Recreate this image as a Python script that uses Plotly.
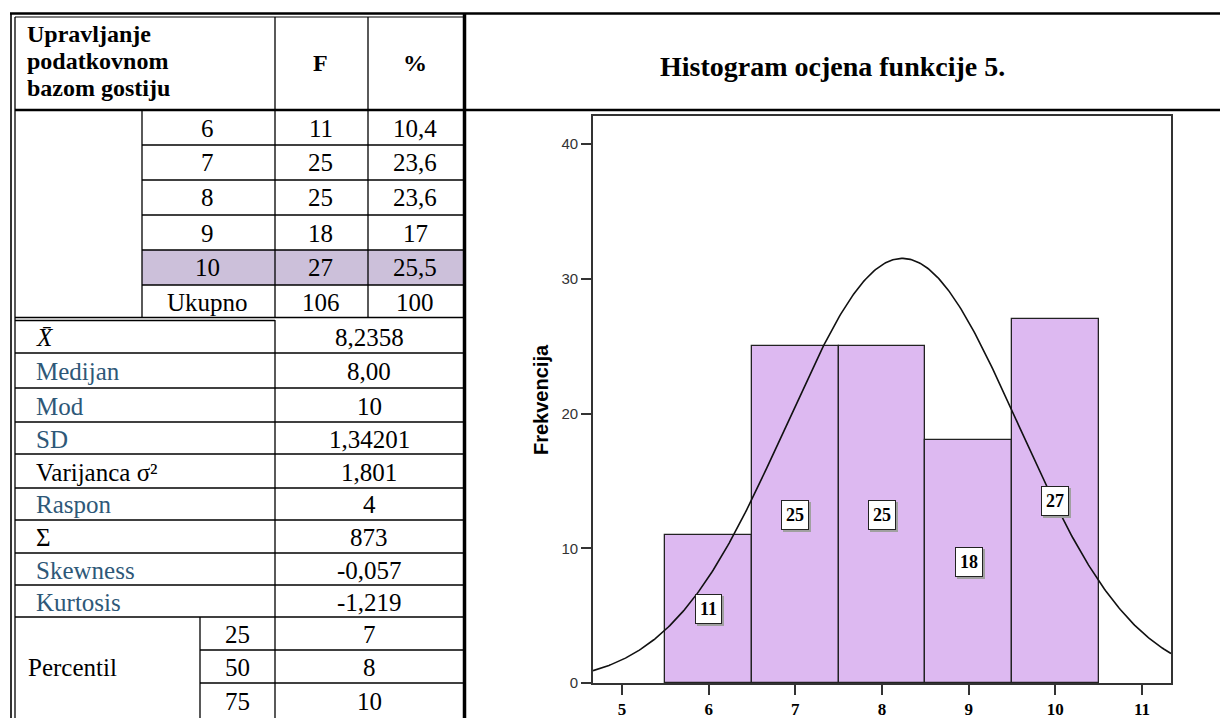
import numpy as np
import plotly.graph_objects as go

# page is drawn with an 8px body margin, so the figure is offset by 8px
OFF = 8
W, H = 1228 - OFF, 718 - OFF

# ---------------- data ----------------
header_lines = ["Upravljanje", "podatkovnom", "bazom gostiju"]
col_f = "F"
col_pct = "%"
grades = [6, 7, 8, 9, 10]
freq = [11, 25, 25, 18, 27]
pct = ["10,4", "23,6", "23,6", "17", "25,5"]
total_label = "Ukupno"
total_f = "106"
total_pct = "100"
stat_labels = ["<i>X\u0304</i>", "Medijan", "Mod", "SD", "Varijanca σ²", "Raspon", "Σ", "Skewness", "Kurtosis"]
stat_values = ["8,2358", "8,00", "10", "1,34201", "1,801", "4", "873", "-0,057", "-1,219"]
stat_blue = [False, True, True, True, False, True, False, True, True]
percentile_label = "Percentil"
percentiles = ["25", "50", "75"]
percentile_values = ["7", "8", "10"]
mean = 8.2358
sd = 1.34201
n = 106
x_ticks = [5, 6, 7, 8, 9, 10, 11]
y_ticks = [0, 10, 20, 30, 40]
chart_title = "Histogram ocjena funkcije 5."
y_title = "Frekvencija"

# ---------------- helpers (page pixel -> paper) ----------------
def px(x):
    return (x - OFF) / W

def py(y):
    return 1 - (y - OFF) / H

SERIF = "Liberation Serif"
SANS = "Liberation Sans"
BLUE = "#2E5878"
BAR = "#DDB9F1"
HIL = "#CCC0DA"

fig = go.Figure()

bins = np.array(grades, dtype=float)
fig.add_trace(go.Bar(x=bins, y=freq, width=1.0,
                     marker=dict(color=BAR, line=dict(color="#222222", width=1.3)),
                     hoverinfo="skip", showlegend=False))

x_lo, x_hi = 4.665, 11.335
xs = np.linspace(x_lo, x_hi, 400)
ys = n * 1.0 / (sd * np.sqrt(2 * np.pi)) * np.exp(-0.5 * ((xs - mean) / sd) ** 2)
fig.add_trace(go.Scatter(x=xs, y=ys, mode="lines", line=dict(color="#111111", width=1.6),
                         hoverinfo="skip", showlegend=False))

ann = []
shapes = []

# bar value labels (shadow + box)
for g, f in zip(grades, freq):
    ann.append(dict(x=g, y=f / 2, xref="x", yref="y", text=str(f), showarrow=False,
                    font=dict(family=SERIF, size=18, color="#a0a0a0", weight="bold"),
                    bgcolor="#a0a0a0", borderpad=4, borderwidth=1, bordercolor="#a0a0a0",
                    xshift=2, yshift=-2))
    ann.append(dict(x=g, y=f / 2, xref="x", yref="y", text=str(f), showarrow=False,
                    font=dict(family=SERIF, size=18, color="black", weight="bold"),
                    bgcolor="white", borderpad=4, borderwidth=1, bordercolor="#222222"))

def line(x0, y0, x1, y1, w=1.3, c="black"):
    shapes.append(dict(type="line", xref="paper", yref="paper",
                       x0=px(x0), y0=py(y0), x1=px(x1), y1=py(y1),
                       line=dict(color=c, width=w)))

def text(x, y, t, size=25, color="black", anchor="center", bold=False, family=SERIF, angle=0):
    ann.append(dict(x=px(x), y=py(y), xref="paper", yref="paper", text=t, showarrow=False,
                    xanchor=anchor, yanchor="middle", textangle=angle,
                    font=dict(family=family, size=size, color=color,
                              weight="bold" if bold else "normal")))

# highlighted row
shapes.append(dict(type="rect", xref="paper", yref="paper", x0=px(142), x1=px(463),
                   y0=py(250), y1=py(285), fillcolor=HIL, line=dict(width=0), layer="below"))

# outer borders
line(10, 13.5, 1228, 13.5, w=2.5)
line(15, 17, 463, 17, w=1.2)
line(11, 13, 11, 718, w=1.6)
line(15, 17, 15, 718, w=1.3)
line(464.5, 13, 464.5, 718, w=3.5)
line(15, 110, 1228, 110, w=2.6)

# header columns
line(275, 17, 275, 318)
line(368, 17, 368, 318)
line(142, 110, 142, 318)
for y in [145, 180, 215, 250, 285]:
    line(142, y, 463, y)
line(15, 317.5, 463, 317.5, w=1.3)
line(15, 320.5, 275, 320.5, w=1.3)

# stats section
line(275, 320, 275, 718)
for y in [353, 388, 422, 454, 488, 520, 553, 585, 617]:
    line(15, y, 463, y)
line(200, 617, 200, 718)
for y in [650, 683]:
    line(200, y, 463, y)

# header texts
for i, t in enumerate(header_lines):
    text(25, 34 + i * 27, t, size=24, anchor="left", bold=True)
text(321, 63, col_f, size=24, bold=True)
text(415, 63, col_pct, size=24, bold=True)

row_c = [128, 163, 198, 233, 268]
for yc, g, f, p in zip(row_c, grades, freq, pct):
    text(208, yc, str(g))
    text(321, yc, str(f))
    text(415, yc, p)
text(208, 302, total_label)
text(321, 302, total_f)
text(415, 302, total_pct)

stat_c = [337, 371, 406, 439, 472, 505, 537, 570, 602]
for yc, lab, val, blue in zip(stat_c, stat_labels, stat_values, stat_blue):
    text(34, yc, lab, anchor="left", color=BLUE if blue else "black")
    text(369, yc, val)

text(26, 667, percentile_label, anchor="left")
for yc, p, v in zip([634, 667, 701], percentiles, percentile_values):
    text(237, yc, p)
    text(369, yc, v)

# chart title and y title
text(832, 66, chart_title, size=28, bold=True)
text(541, 400, y_title, size=20, bold=True, family=SANS, angle=-90)

fig.update_layout(
    width=W, height=H, margin=dict(l=0, r=0, t=0, b=0),
    paper_bgcolor="white", plot_bgcolor="white",
    bargap=0, shapes=shapes, annotations=ann, showlegend=False,
    xaxis=dict(domain=[px(593), px(1171)], range=[x_lo, x_hi], tickvals=x_ticks,
               ticks="outside", ticklen=10, tickwidth=1.5, tickcolor="#333333",
               tickfont=dict(family=SERIF, size=17, color="black", weight="bold"),
               showline=True, mirror=True, linecolor="#333333", linewidth=1.6,
               showgrid=False, zeroline=False, automargin=False, fixedrange=True),
    yaxis=dict(domain=[py(683), py(116)], range=[0, 42.08], tickvals=y_ticks,
               ticks="outside", ticklen=10, tickwidth=1.5, tickcolor="#333333",
               tickfont=dict(family=SANS, size=15, color="#333333"),
               showline=True, mirror=True, linecolor="#333333", linewidth=1.6,
               showgrid=False, zeroline=False, automargin=False, fixedrange=True),
)

fig.write_html("out.html")
